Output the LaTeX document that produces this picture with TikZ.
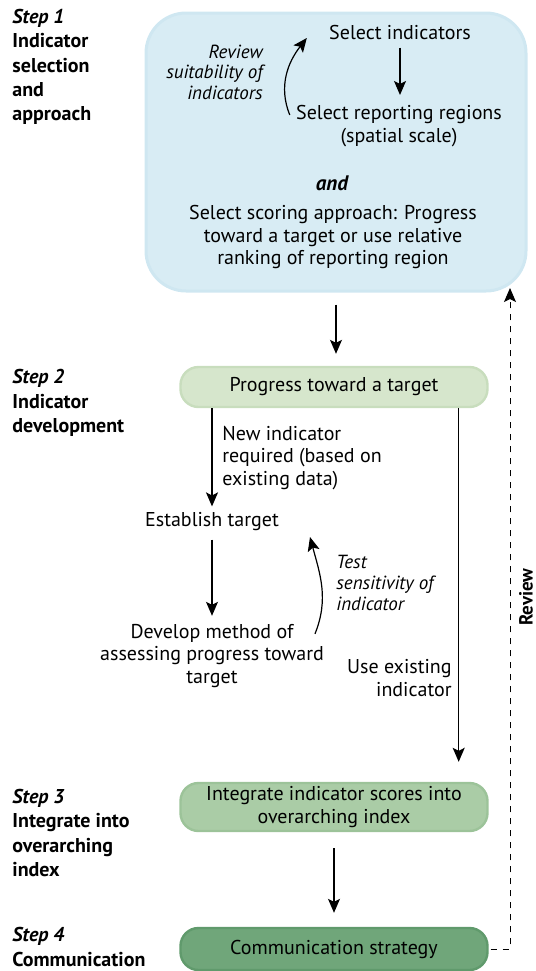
\documentclass[tikz,border=0pt]{standalone}
\usepackage{fontspec}
\setmainfont{PT Sans}
\usetikzlibrary{arrows.meta}

\definecolor{selblue}{RGB}{216,236,244}
\definecolor{selblueedge}{RGB}{207,231,241}
\definecolor{greenA}{RGB}{214,230,204}
\definecolor{greenAedge}{RGB}{200,221,189}
\definecolor{greenB}{RGB}{170,204,166}
\definecolor{greenBedge}{RGB}{156,195,153}
\definecolor{greenC}{RGB}{112,166,122}
\definecolor{greenCedge}{RGB}{96,154,108}

\tikzset{
  txt/.style={font=\fontsize{10}{11.3}\selectfont, align=center, inner sep=0pt},
  note/.style={font=\fontsize{9.5}{10.3}\selectfont\itshape, inner sep=0pt},
  steplabel/.style={font=\fontsize{10}{12.2}\selectfont\bfseries, align=left, anchor=west, inner sep=0pt},
  stagebox/.style={rounded corners=9pt, minimum width=153.5pt, line width=1.2pt, txt},
  arr/.style={-{Stealth[length=7pt,width=6pt,inset=1.5pt]}, line width=0.6pt},
}

\begin{document}
\begin{tikzpicture}[x=0.5pt,y=0.5pt]
  \useasboundingbox (0,0) rectangle (536,-971);

  % step labels
  \node[steplabel] (s1) at (12,-67) {\textit{Step 1}\\Indicator\\selection\\and\\approach};
  \node[steplabel] (s2) at (12,-403) {\textit{Step 2}\\Indicator\\development};
  \node[steplabel] (s3) at (12,-833) {\textit{Step 3}\\Integrate into\\overarching\\index};
  \node[steplabel] (s4) at (12,-947) {\textit{Step 4}\\Communication};

  % step 1
  \node[fill=selblue, draw=selblueedge, line width=1.5pt, rounded corners=20pt,
        minimum width=190pt, minimum height=139pt] (step1box) at (336,-152) {};
  \node[txt] (selind) at (400,-32) {Select indicators};
  \node[txt] (selreg) at (399,-126) {Select reporting regions\\(spatial scale)};
  \node[note, align=right, anchor=east] (reviewnote) at (263,-72) {Review\\suitability of\\indicators};
  \node[txt, font=\fontsize{10.5}{12}\selectfont\bfseries\itshape] (and) at (332,-183) {and};
  \node[txt] (scoring) at (333,-237) {Select scoring approach: Progress\\toward a target or use relative\\ranking of reporting region};

  \draw[arr, shorten <=4pt, shorten >=5pt] (selind.south) -- (selind.south |- selreg.north);
  \draw[arr] ([xshift=-3pt,yshift=-5pt]selreg.north west) to[out=112,in=232] ([xshift=-11pt,yshift=-3pt]selind.west);

  % step 2
  \node[stagebox, fill=greenA, draw=greenAedge, minimum height=20pt] (progress) at (334,-387) {Progress toward a target};
  \node[txt, align=left, anchor=west] (newind) at (222,-458) {New indicator\\required (based on\\existing data)};
  \node[txt] (estab) at (212,-522) {Establish target};
  \node[txt] (develop) at (212,-656) {Develop method of\\assessing progress toward\\target};
  \node[note, align=left, anchor=west] (testnote) at (336,-583) {Test\\sensitivity of\\indicator};
  \node[txt, align=right, anchor=east] (useex) at (452,-678) {Use existing\\indicator};

  \draw[arr, shorten <=6pt, shorten >=6pt] (step1box.south) -- (step1box.south |- progress.north);
  \draw[arr, shorten >=3pt] (progress.south -| estab) -- (estab.north);
  \draw[arr, shorten <=4pt, shorten >=4pt] (estab.south) -- (develop.north);
  \draw[arr] ([xshift=51.5pt,yshift=-5pt]develop.north) to[out=68,in=-75] ([xshift=49pt,yshift=-7.5pt]estab.center);

  % step 3 and 4
  \node[stagebox, fill=greenB, draw=greenBedge, minimum height=24pt] (integrate) at (334,-807) {Integrate indicator scores into\\overarching index};
  \node[stagebox, fill=greenC, draw=greenCedge, minimum height=21pt] (comm) at (334,-949) {Communication strategy};

  \draw[arr] ([xshift=-15pt]progress.south east) -- ([xshift=-15pt,yshift=10pt]integrate.north east);
  \draw[arr, shorten <=8pt, shorten >=7pt] (integrate.south) -- (comm.north);

  % review loop
  \coordinate (reviewtop) at (510,-288);
  \draw[arr, dashed, line width=0.5pt] ([xshift=1pt]comm.east) -| (reviewtop);
  \node[txt, font=\fontsize{9.5}{12}\selectfont\bfseries, rotate=90] (reviewlabel) at (526,-597) {Review};
\end{tikzpicture}
\end{document}
